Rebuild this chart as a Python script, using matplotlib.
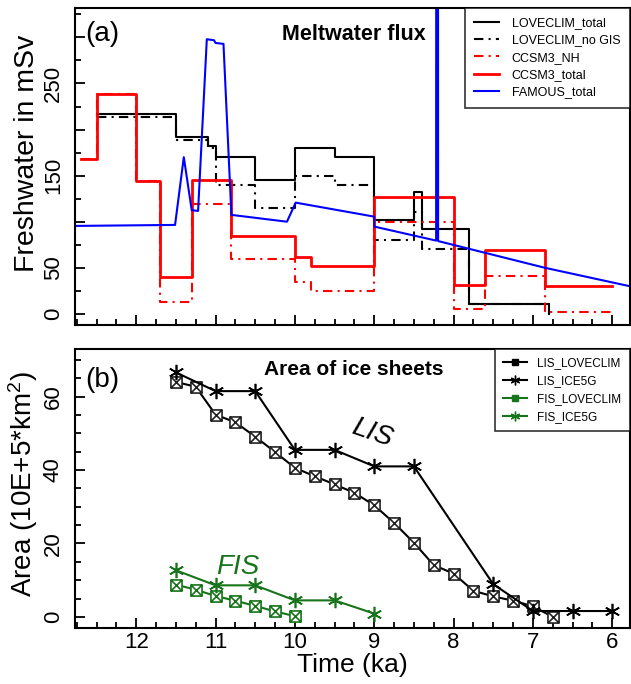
import numpy as np
import matplotlib
matplotlib.use('Agg')
import matplotlib.pyplot as plt
from matplotlib.path import Path
from matplotlib.lines import Line2D
from matplotlib.ticker import MultipleLocator, FixedLocator

''' matplotlib config
'''
plt.rcParams['font.family'] = ['Liberation Sans', 'DejaVu Sans']
plt.rcParams['mathtext.default'] = 'regular'

''' (a) meltwater flux in mSv
    step series: flux level holds from edge[i] to edge[i+1], last level is where it drops to
'''
lc_edges = [12.5, 11.5, 11.1, 11.0, 10.5, 10.0, 9.5, 9.0, 8.5, 8.4, 7.8, 6.8]
lc_total = [217, 192, 182, 170, 145, 180, 170, 102, 132, 92, 11, 0]
lc_nogis = [214, 189, 180, 140, 115, 150, 140, 80, 110, 70, 11, 0]

ccsm_edges = [12.7, 12.5, 12.0, 11.7, 11.3, 10.8, 10.0, 9.8, 9.0, 8.0, 7.6, 6.85, 6.0]
ccsm_total = [168, 239, 144, 40, 145, 85, 62, 52, 127, 31, 69, 30, 30]
ccsm_nh = [168, 239, 144, 13, 119, 59, 35, 25, 100, 5, 41, 2.5, 2.5]

famous_t = [12.8, 11.51, 11.40, 11.30, 11.22, 11.11, 11.02, 11.0, 10.9, 10.8,
            10.1, 9.99, 9.0, 9.0, 8.22, 8.215, 8.20, 8.195, 6.85, 5.7]
famous_flux = [95.4, 96.5, 170, 112.5, 111.7, 298, 297, 294, 293, 107.4,
               100, 120.7, 105.5, 94.7, 79.5, 1500, 1500, 79, 50, 28.5]

''' (b) ice sheet area in 10E+5 km^2
'''
lis_lc_t = [11.5, 11.25, 11.0, 10.75, 10.5, 10.25, 10.0, 9.75, 9.5, 9.25,
            9.0, 8.75, 8.5, 8.25, 8.0, 7.75, 7.5, 7.25, 7.0, 6.75]
lis_lc = [64, 62.7, 55.1, 53.0, 49.1, 44.9, 40.6, 38.3, 36.1, 33.8,
          30.4, 25.6, 20.2, 14.1, 11.8, 7.1, 5.6, 4.4, 2.9, 0]
lis_ice5g_t = [11.5, 11.0, 10.5, 10.0, 9.5, 9.0, 8.5, 7.5, 7.0, 6.5, 6.0]
lis_ice5g = [66.6, 61.5, 61.5, 45.5, 45.5, 41.0, 41.0, 8.9, 1.6, 1.6, 1.6]

fis_lc_t = [11.5, 11.25, 11.0, 10.75, 10.5, 10.25, 10.0]
fis_lc = [8.8, 7.4, 5.7, 4.4, 3.0, 1.5, 0.2]
fis_ice5g_t = [11.5, 11.0, 10.5, 10.0, 9.5, 9.0]
fis_ice5g = [12.7, 8.6, 8.6, 4.5, 4.5, 0.9]

green = '#17741a'
dashdot = (0, (4.5, 2.5, 1, 2.5))

# open square with a cross inside
boxx = Path([(-1, -1), (1, -1), (1, 1), (-1, 1), (-1, -1),
             (-1, -1), (1, 1), (-1, 1), (1, -1)],
            [Path.MOVETO, Path.LINETO, Path.LINETO, Path.LINETO, Path.CLOSEPOLY,
             Path.MOVETO, Path.LINETO, Path.MOVETO, Path.LINETO])
aster = (6, 2, 0)


def style_axes(ax):
  ax.set_xlim(12.77, 5.78)
  ax.xaxis.set_major_locator(MultipleLocator(1))
  ax.xaxis.set_minor_locator(MultipleLocator(0.25))
  ax.tick_params(which='both', direction='in', top=False, right=False, width=1.3)
  ax.tick_params(which='major', length=7, labelsize=16)
  ax.tick_params(which='minor', length=4)
  ax.tick_params(axis='y', labelrotation=90, pad=8)
  ax.tick_params(axis='x', pad=3)
  for lab in ax.get_yticklabels():
    lab.set_va('center')
  for s in ax.spines.values():
    s.set_linewidth(1.5)


fig = plt.figure(figsize=(6.31, 6.84), dpi=100)
ax1 = fig.add_axes([0.119, 0.525, 0.879, 0.4634])
ax2 = fig.add_axes([0.119, 0.082, 0.879, 0.4079])

''' panel (a)
'''
h_lct, = ax1.step(lc_edges, lc_total, where='post', color='k', lw=1.5, label='LOVECLIM_total')
h_lcn, = ax1.step(lc_edges, lc_nogis, where='post', color='k', lw=1.5, ls=dashdot,
                  label='LOVECLIM_no GIS')
h_cnh, = ax1.step(ccsm_edges, ccsm_nh, where='post', color='#ff0000', lw=1.5, ls=dashdot,
                  label='CCSM3_NH')
h_ct, = ax1.step(ccsm_edges, ccsm_total, where='post', color='#ff0000', lw=2,
                 label='CCSM3_total')
h_fm, = ax1.plot(famous_t, famous_flux, color='#0000ff', lw=1.5, label='FAMOUS_total')

ax1.set_ylim(-12, 332)
ax1.yaxis.set_major_locator(FixedLocator([0, 50, 100, 150, 200, 250, 300]))
ax1.yaxis.set_minor_locator(MultipleLocator(25))
style_axes(ax1)
ax1.set_yticklabels(['0', '50', '', '150', '', '250', ''], rotation=90, va='center')
ax1.tick_params(axis='x', labelbottom=False)
ax1.set_ylabel('Freshwater in mSv', fontsize=20.5)
ax1.yaxis.set_label_coords(-0.063, 0.54)
ax1.text(0.049, 0.918, '(a)', transform=ax1.transAxes, fontsize=20, ha='center', va='center')
ax1.text(0.503, 0.915, 'Meltwater flux', transform=ax1.transAxes, fontsize=15.5,
         fontweight='bold', ha='center', va='center')
leg = ax1.legend(handles=[h_lct, h_lcn, h_cnh, h_ct, h_fm], loc='upper right',
                 borderaxespad=0, fontsize=9, fancybox=False, edgecolor='k',
                 handlelength=2.0, handletextpad=1.0, labelspacing=0.42, borderpad=0.75)
leg.get_frame().set_linewidth(1.2)

''' panel (b)
'''
ax2.plot(lis_lc_t, lis_lc, color='k', lw=1.5, marker=boxx, ms=8, mfc='white', mec='#222222', mew=1.2)
ax2.plot(lis_ice5g_t, lis_ice5g, color='k', lw=1.5, marker=aster, ms=11, mew=1.2)
ax2.plot(fis_lc_t, fis_lc, color=green, lw=1.5, marker=boxx, ms=8, mfc='white', mec=green, mew=1.2)
ax2.plot(fis_ice5g_t, fis_ice5g, color=green, lw=1.5, marker=aster, ms=11, mew=1.2)

ax2.set_ylim(-3, 73)
ax2.yaxis.set_major_locator(MultipleLocator(20))
ax2.yaxis.set_minor_locator(MultipleLocator(5))
style_axes(ax2)
ax2.set_xticks([12, 11, 10, 9, 8, 7, 6])
ax2.set_xticklabels(['12', '11', '10', '9', '8', '7', '6'])
ax2.set_xlabel('Time (ka)', fontsize=19, labelpad=0)
ax2.set_ylabel('Area (10E+5*km$^2$)', fontsize=20)
ax2.yaxis.set_label_coords(-0.063, 0.514)
ax2.text(0.049, 0.889, '(b)', transform=ax2.transAxes, fontsize=20, ha='center', va='center')
ax2.text(0.503, 0.925, 'Area of ice sheets', transform=ax2.transAxes, fontsize=15,
         fontweight='bold', ha='center', va='center')
ax2.text(9.03, 50, 'LIS', fontsize=20, style='italic', rotation=-19, ha='center', va='center')
ax2.text(10.72, 13.5, 'FIS', fontsize=20, style='italic', color=green, ha='center', va='center')

leg_handles = [
  Line2D([], [], color='k', lw=1.5, marker='s', ms=5),
  Line2D([], [], color='k', lw=1.5, marker=aster, ms=7),
  Line2D([], [], color=green, lw=1.5, marker='s', ms=5),
  Line2D([], [], color=green, lw=1.5, marker=aster, ms=7),
]
leg2 = ax2.legend(leg_handles, ['LIS_LOVECLIM', 'LIS_ICE5G', 'FIS_LOVECLIM', 'FIS_ICE5G'],
                  loc='upper right', borderaxespad=0, fontsize=8.5, fancybox=False,
                  edgecolor='k', handlelength=2.0, handletextpad=0.9, labelspacing=0.5,
                  borderpad=0.7)
leg2.get_frame().set_linewidth(1.2)

fig.savefig('out.png', dpi=100)
